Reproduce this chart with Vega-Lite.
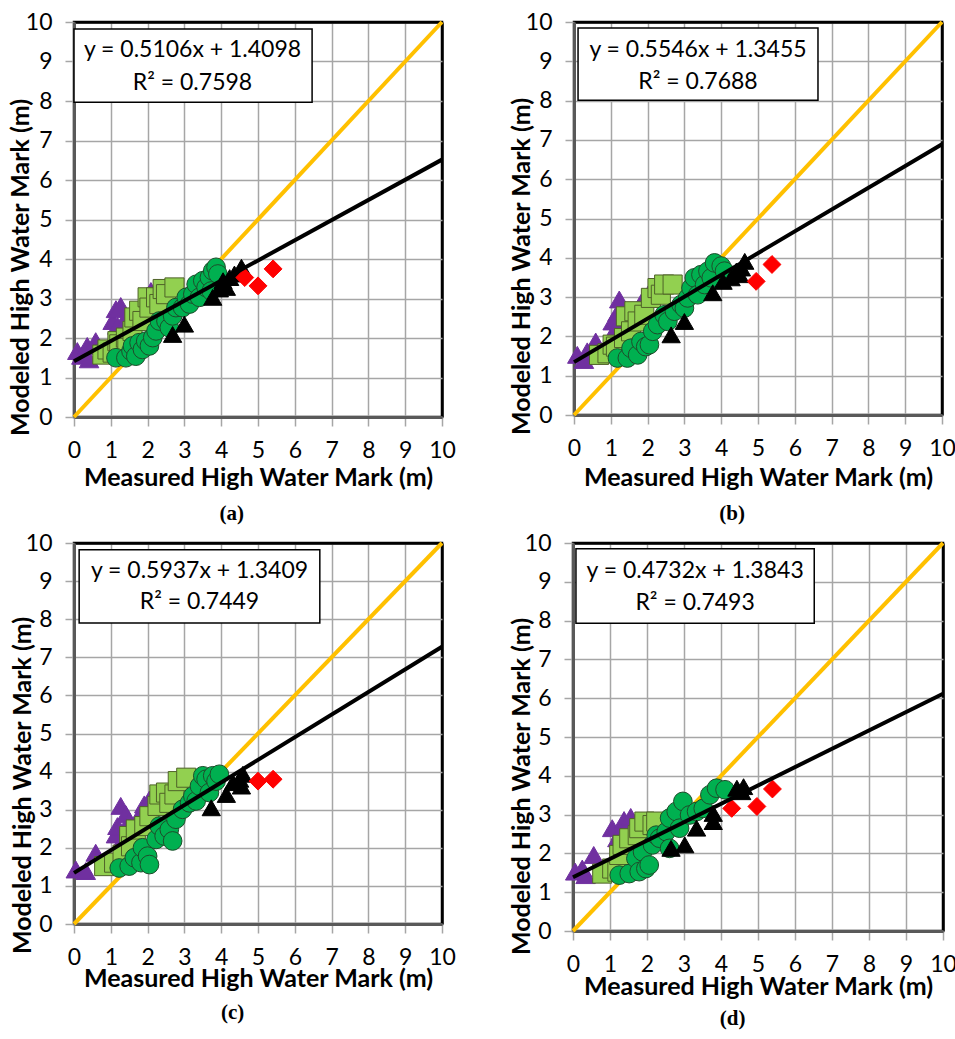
{
"$schema": "https://vega.github.io/schema/vega-lite/v6.json",
"padding": {"top": 9, "left": 6, "right": 0, "bottom": 0},
"background": "white",
"config": {
 "font": "Lato",
 "view": {"stroke": "black", "strokeWidth": 2.5},
 "axis": {"grid": true, "gridColor": {"condition": {"test": "datum.value == 10", "value": "black"}, "value": "#A6A6A6"}, "gridWidth": {"condition": {"test": "datum.value == 10", "value": 2.5}, "value": 1.5},
   "domainColor": "#595959", "domainWidth": 3, "tickColor": "#A6A6A6", "tickWidth": 1.5, "tickSize": 9,
   "labelFontSize": 23, "labelColor": "black", "labelPadding": 13, "labelFont": "Lato", "labelFlush": false, "labelOverlap": false,
   "titleFontSize": 25, "titleFontWeight": "bold", "titleColor": "black", "titleFont": "Lato"},
 "title": {"orient": "bottom", "font": "Liberation Serif", "fontSize": 21, "fontWeight": "bold", "color": "black", "frame": "bounds"}
},
"datasets": {
 "one": [{"x": 0, "y": 0}, {"x": 10, "y": 10}],
 "fit": [
  {"p": "a", "x": 0, "y": 1.4098}, {"p": "a", "x": 10, "y": 6.5158},
  {"p": "b", "x": 0, "y": 1.3455}, {"p": "b", "x": 10, "y": 6.8915},
  {"p": "c", "x": 0, "y": 1.3409}, {"p": "c", "x": 10, "y": 7.2779},
  {"p": "d", "x": 0, "y": 1.3843}, {"p": "d", "x": 10, "y": 6.1163}
 ],
 "boxes": [
  {"p": "a", "x": 0, "x2": 6.47, "y": 7.97, "y2": 9.82},
  {"p": "b", "x": 0.11, "x2": 6.63, "y": 8.01, "y2": 9.85},
  {"p": "c", "x": 0.14, "x2": 6.68, "y": 7.9, "y2": 9.82},
  {"p": "d", "x": 0.08, "x2": 6.52, "y": 7.93, "y2": 9.85}
 ],
 "eq": [
  {"p": "a", "x": 3.22, "y": 9.29, "t": "y = 0.5106x + 1.4098"}, {"p": "a", "x": 3.22, "y": 8.46, "t": "R² = 0.7598"},
  {"p": "b", "x": 3.37, "y": 9.29, "t": "y = 0.5546x + 1.3455"}, {"p": "b", "x": 3.37, "y": 8.47, "t": "R² = 0.7688"},
  {"p": "c", "x": 3.41, "y": 9.26, "t": "y = 0.5937x + 1.3409"}, {"p": "c", "x": 3.41, "y": 8.44, "t": "R² = 0.7449"},
  {"p": "d", "x": 3.30, "y": 9.27, "t": "y = 0.4732x + 1.3843"}, {"p": "d", "x": 3.30, "y": 8.45, "t": "R² = 0.7493"}
 ],
 "pts": [
  {"p":"a","s":"P","x":0.09,"y":1.67},{"p":"a","s":"P","x":0.2,"y":1.55},{"p":"a","s":"P","x":0.41,"y":1.46},{"p":"a","s":"P","x":0.36,"y":1.80},{"p":"a","s":"P","x":0.59,"y":1.92},{"p":"a","s":"P","x":1.05,"y":2.43},{"p":"a","s":"P","x":1.14,"y":2.73},{"p":"a","s":"P","x":1.27,"y":2.81},{"p":"a","s":"P","x":1.41,"y":2.52},{"p":"a","s":"P","x":1.18,"y":2.31},{"p":"a","s":"P","x":1.32,"y":2.26},{"p":"a","s":"P","x":1.55,"y":2.18},{"p":"a","s":"P","x":2.09,"y":3.19},
  {"p":"a","s":"S","x":0.77,"y":1.58},{"p":"a","s":"S","x":0.91,"y":1.71},{"p":"a","s":"S","x":1.05,"y":1.63},{"p":"a","s":"S","x":1.18,"y":1.92},{"p":"a","s":"S","x":1.23,"y":1.84},{"p":"a","s":"S","x":1.41,"y":2.01},{"p":"a","s":"S","x":1.45,"y":1.75},{"p":"a","s":"S","x":1.59,"y":2.18},{"p":"a","s":"S","x":1.64,"y":2.52},{"p":"a","s":"S","x":1.77,"y":2.69},{"p":"a","s":"S","x":1.86,"y":2.43},{"p":"a","s":"S","x":2.0,"y":3.03},{"p":"a","s":"S","x":2.05,"y":2.77},{"p":"a","s":"S","x":2.23,"y":3.03},{"p":"a","s":"S","x":2.32,"y":2.86},{"p":"a","s":"S","x":2.41,"y":3.24},{"p":"a","s":"S","x":2.5,"y":3.11},{"p":"a","s":"S","x":2.73,"y":3.28},
  {"p":"a","s":"C","x":1.14,"y":1.5},{"p":"a","s":"C","x":1.41,"y":1.5},{"p":"a","s":"C","x":1.55,"y":1.67},{"p":"a","s":"C","x":1.59,"y":1.80},{"p":"a","s":"C","x":1.68,"y":1.54},{"p":"a","s":"C","x":1.77,"y":1.88},{"p":"a","s":"C","x":1.86,"y":1.71},{"p":"a","s":"C","x":1.95,"y":1.92},{"p":"a","s":"C","x":2.05,"y":1.80},{"p":"a","s":"C","x":2.14,"y":2.01},{"p":"a","s":"C","x":2.23,"y":2.18},{"p":"a","s":"C","x":2.32,"y":2.43},{"p":"a","s":"C","x":2.5,"y":2.43},{"p":"a","s":"C","x":2.59,"y":2.26},{"p":"a","s":"C","x":2.68,"y":2.56},{"p":"a","s":"C","x":2.77,"y":2.77},{"p":"a","s":"C","x":2.95,"y":2.77},{"p":"a","s":"C","x":3.05,"y":3.03},{"p":"a","s":"C","x":3.14,"y":2.86},{"p":"a","s":"C","x":3.23,"y":3.11},{"p":"a","s":"C","x":3.32,"y":3.36},{"p":"a","s":"C","x":3.41,"y":3.03},{"p":"a","s":"C","x":3.5,"y":3.45},{"p":"a","s":"C","x":3.59,"y":3.28},{"p":"a","s":"C","x":3.68,"y":3.53},{"p":"a","s":"C","x":3.73,"y":3.19},{"p":"a","s":"C","x":3.77,"y":3.70},{"p":"a","s":"C","x":3.86,"y":3.79},{"p":"a","s":"C","x":3.91,"y":3.62},
  {"p":"a","s":"B","x":2.68,"y":2.09},{"p":"a","s":"B","x":3.0,"y":2.35},{"p":"a","s":"B","x":3.77,"y":3.03},{"p":"a","s":"B","x":3.95,"y":3.24},{"p":"a","s":"B","x":4.05,"y":3.45},{"p":"a","s":"B","x":4.14,"y":3.28},{"p":"a","s":"B","x":4.23,"y":3.53},{"p":"a","s":"B","x":4.36,"y":3.62},{"p":"a","s":"B","x":4.5,"y":3.66},{"p":"a","s":"B","x":4.55,"y":3.79},
  {"p":"a","s":"R","x":4.64,"y":3.53},{"p":"a","s":"R","x":5.0,"y":3.32},{"p":"a","s":"R","x":5.41,"y":3.75},

  {"p":"b","s":"P","x":0.09,"y":1.53},{"p":"b","s":"P","x":0.27,"y":1.40},{"p":"b","s":"P","x":0.36,"y":1.62},{"p":"b","s":"P","x":0.59,"y":1.87},{"p":"b","s":"P","x":1.05,"y":2.38},{"p":"b","s":"P","x":1.09,"y":2.13},{"p":"b","s":"P","x":1.18,"y":2.6},{"p":"b","s":"P","x":1.23,"y":2.94},{"p":"b","s":"P","x":1.27,"y":2.30},{"p":"b","s":"P","x":1.41,"y":2.6},{"p":"b","s":"P","x":1.82,"y":2.85},{"p":"b","s":"P","x":2.09,"y":3.19},
  {"p":"b","s":"S","x":0.68,"y":1.53},{"p":"b","s":"S","x":0.91,"y":1.57},{"p":"b","s":"S","x":1.05,"y":1.79},{"p":"b","s":"S","x":1.14,"y":1.74},{"p":"b","s":"S","x":1.36,"y":1.96},{"p":"b","s":"S","x":1.41,"y":2.51},{"p":"b","s":"S","x":1.55,"y":2.13},{"p":"b","s":"S","x":1.64,"y":2.64},{"p":"b","s":"S","x":1.73,"y":2.38},{"p":"b","s":"S","x":1.91,"y":2.55},{"p":"b","s":"S","x":2.09,"y":2.98},{"p":"b","s":"S","x":2.27,"y":3.23},{"p":"b","s":"S","x":2.36,"y":3.06},{"p":"b","s":"S","x":2.45,"y":3.32},{"p":"b","s":"S","x":2.68,"y":3.32},
  {"p":"b","s":"C","x":1.18,"y":1.45},{"p":"b","s":"C","x":1.45,"y":1.45},{"p":"b","s":"C","x":1.55,"y":1.70},{"p":"b","s":"C","x":1.73,"y":1.53},{"p":"b","s":"C","x":1.82,"y":1.87},{"p":"b","s":"C","x":1.95,"y":1.74},{"p":"b","s":"C","x":2.05,"y":1.79},{"p":"b","s":"C","x":2.14,"y":2.13},{"p":"b","s":"C","x":2.27,"y":2.30},{"p":"b","s":"C","x":2.45,"y":2.55},{"p":"b","s":"C","x":2.55,"y":2.38},{"p":"b","s":"C","x":2.73,"y":2.64},{"p":"b","s":"C","x":2.91,"y":2.81},{"p":"b","s":"C","x":3.0,"y":2.72},{"p":"b","s":"C","x":3.09,"y":2.98},{"p":"b","s":"C","x":3.18,"y":3.23},{"p":"b","s":"C","x":3.27,"y":3.49},{"p":"b","s":"C","x":3.36,"y":3.06},{"p":"b","s":"C","x":3.45,"y":3.57},{"p":"b","s":"C","x":3.55,"y":3.32},{"p":"b","s":"C","x":3.64,"y":3.66},{"p":"b","s":"C","x":3.73,"y":3.49},{"p":"b","s":"C","x":3.82,"y":3.87},{"p":"b","s":"C","x":4.0,"y":3.79},{"p":"b","s":"C","x":4.09,"y":3.66},
  {"p":"b","s":"B","x":2.64,"y":2.04},{"p":"b","s":"B","x":3.0,"y":2.38},{"p":"b","s":"B","x":3.77,"y":3.11},{"p":"b","s":"B","x":4.05,"y":3.40},{"p":"b","s":"B","x":4.27,"y":3.49},{"p":"b","s":"B","x":4.41,"y":3.66},{"p":"b","s":"B","x":4.5,"y":3.57},{"p":"b","s":"B","x":4.55,"y":3.74},{"p":"b","s":"B","x":4.64,"y":3.91},
  {"p":"b","s":"R","x":4.95,"y":3.40},{"p":"b","s":"R","x":5.38,"y":3.83},

  {"p":"c","s":"P","x":0.05,"y":1.43},{"p":"c","s":"P","x":0.32,"y":1.39},{"p":"c","s":"P","x":0.59,"y":1.87},{"p":"c","s":"P","x":0.95,"y":1.69},{"p":"c","s":"P","x":1.14,"y":2.35},{"p":"c","s":"P","x":1.18,"y":2.57},{"p":"c","s":"P","x":1.27,"y":3.10},{"p":"c","s":"P","x":1.32,"y":2.22},{"p":"c","s":"P","x":1.41,"y":2.88},{"p":"c","s":"P","x":1.5,"y":2.70},{"p":"c","s":"P","x":1.82,"y":2.92},{"p":"c","s":"P","x":1.91,"y":3.14},{"p":"c","s":"P","x":2.05,"y":3.27},
  {"p":"c","s":"S","x":0.82,"y":1.52},{"p":"c","s":"S","x":1.09,"y":1.61},{"p":"c","s":"S","x":1.32,"y":1.82},{"p":"c","s":"S","x":1.5,"y":2.31},{"p":"c","s":"S","x":1.55,"y":2.04},{"p":"c","s":"S","x":1.68,"y":2.48},{"p":"c","s":"S","x":1.91,"y":2.57},{"p":"c","s":"S","x":2.05,"y":2.83},{"p":"c","s":"S","x":2.27,"y":3.10},{"p":"c","s":"S","x":2.32,"y":3.40},{"p":"c","s":"S","x":2.5,"y":3.45},{"p":"c","s":"S","x":2.59,"y":3.18},{"p":"c","s":"S","x":2.73,"y":3.40},{"p":"c","s":"S","x":2.82,"y":3.75},{"p":"c","s":"S","x":3.05,"y":3.84},
  {"p":"c","s":"C","x":1.23,"y":1.47},{"p":"c","s":"C","x":1.5,"y":1.52},{"p":"c","s":"C","x":1.64,"y":1.74},{"p":"c","s":"C","x":1.82,"y":1.61},{"p":"c","s":"C","x":1.86,"y":2.0},{"p":"c","s":"C","x":2.0,"y":1.78},{"p":"c","s":"C","x":2.05,"y":1.56},{"p":"c","s":"C","x":2.23,"y":2.22},{"p":"c","s":"C","x":2.32,"y":2.57},{"p":"c","s":"C","x":2.45,"y":2.31},{"p":"c","s":"C","x":2.59,"y":2.48},{"p":"c","s":"C","x":2.68,"y":2.18},{"p":"c","s":"C","x":2.77,"y":2.75},{"p":"c","s":"C","x":2.95,"y":3.01},{"p":"c","s":"C","x":3.14,"y":3.18},{"p":"c","s":"C","x":3.23,"y":3.36},{"p":"c","s":"C","x":3.32,"y":3.23},{"p":"c","s":"C","x":3.41,"y":3.62},{"p":"c","s":"C","x":3.5,"y":3.89},{"p":"c","s":"C","x":3.59,"y":3.80},{"p":"c","s":"C","x":3.68,"y":3.45},{"p":"c","s":"C","x":3.77,"y":3.89},{"p":"c","s":"C","x":3.86,"y":3.75},{"p":"c","s":"C","x":3.95,"y":3.93},
  {"p":"c","s":"B","x":3.73,"y":3.05},{"p":"c","s":"B","x":4.14,"y":3.40},{"p":"c","s":"B","x":4.32,"y":3.71},{"p":"c","s":"B","x":4.5,"y":3.80},{"p":"c","s":"B","x":4.55,"y":3.62},{"p":"c","s":"B","x":4.59,"y":3.93},
  {"p":"c","s":"R","x":5.0,"y":3.75},{"p":"c","s":"R","x":5.41,"y":3.80},

  {"p":"d","s":"P","x":0.06,"y":1.53},{"p":"d","s":"P","x":0.25,"y":1.61},{"p":"d","s":"P","x":0.34,"y":1.44},{"p":"d","s":"P","x":0.56,"y":1.96},{"p":"d","s":"P","x":1.06,"y":2.65},{"p":"d","s":"P","x":1.2,"y":2.39},{"p":"d","s":"P","x":1.29,"y":2.56},{"p":"d","s":"P","x":1.38,"y":2.86},{"p":"d","s":"P","x":1.47,"y":2.69},{"p":"d","s":"P","x":1.56,"y":2.94},
  {"p":"d","s":"S","x":0.79,"y":1.48},{"p":"d","s":"S","x":1.06,"y":1.61},{"p":"d","s":"S","x":1.2,"y":1.53},{"p":"d","s":"S","x":1.25,"y":1.96},{"p":"d","s":"S","x":1.34,"y":2.22},{"p":"d","s":"S","x":1.52,"y":2.39},{"p":"d","s":"S","x":1.75,"y":2.47},{"p":"d","s":"S","x":1.79,"y":2.65},{"p":"d","s":"S","x":1.93,"y":2.82},{"p":"d","s":"S","x":2.15,"y":2.73},{"p":"d","s":"S","x":2.25,"y":2.82},
  {"p":"d","s":"C","x":1.25,"y":1.44},{"p":"d","s":"C","x":1.52,"y":1.48},{"p":"d","s":"C","x":1.7,"y":1.87},{"p":"d","s":"C","x":1.79,"y":1.53},{"p":"d","s":"C","x":1.88,"y":2.04},{"p":"d","s":"C","x":1.97,"y":1.61},{"p":"d","s":"C","x":2.06,"y":1.70},{"p":"d","s":"C","x":2.15,"y":2.22},{"p":"d","s":"C","x":2.25,"y":2.47},{"p":"d","s":"C","x":2.34,"y":2.39},{"p":"d","s":"C","x":2.52,"y":2.56},{"p":"d","s":"C","x":2.61,"y":2.91},{"p":"d","s":"C","x":2.61,"y":2.13},{"p":"d","s":"C","x":2.79,"y":3.08},{"p":"d","s":"C","x":2.88,"y":2.65},{"p":"d","s":"C","x":2.97,"y":3.34},{"p":"d","s":"C","x":3.15,"y":2.99},{"p":"d","s":"C","x":3.34,"y":3.08},{"p":"d","s":"C","x":3.52,"y":3.16},{"p":"d","s":"C","x":3.7,"y":3.51},{"p":"d","s":"C","x":3.88,"y":3.68},{"p":"d","s":"C","x":4.11,"y":3.64},
  {"p":"d","s":"B","x":2.65,"y":2.13},{"p":"d","s":"B","x":3.02,"y":2.22},{"p":"d","s":"B","x":3.34,"y":2.65},{"p":"d","s":"B","x":3.79,"y":2.82},{"p":"d","s":"B","x":3.79,"y":3.03},{"p":"d","s":"B","x":4.43,"y":3.68},{"p":"d","s":"B","x":4.56,"y":3.59},{"p":"d","s":"B","x":4.61,"y":3.72},
  {"p":"d","s":"R","x":4.29,"y":3.16},{"p":"d","s":"R","x":4.97,"y":3.21},{"p":"d","s":"R","x":5.39,"y":3.66}
 ]
},
"vconcat": [
 {"hconcat": [
  {"width": 368, "height": 395, "title": {"text": "(a)", "offset": 13},
   "encoding": {
    "x": {"field": "x", "type": "quantitative", "scale": {"domain": [0, 10], "nice": false, "zero": false}, "axis": {"values": [0,1,2,3,4,5,6,7,8,9,10], "title": "Measured High Water Mark (m)", "titleY": 60, "titleBaseline": "middle"}},
    "y": {"field": "y", "type": "quantitative", "scale": {"domain": [0, 10], "nice": false, "zero": false}, "axis": {"values": [0,1,2,3,4,5,6,7,8,9,10], "title": "Modeled High Water Mark (m)", "titleX": -46, "titleY": 245, "titleBaseline": "alphabetic"}}
   },
   "layer": [
    {"data": {"name": "boxes"}, "transform": [{"filter": "datum.p == 'a'"}], "mark": {"type": "rect", "fill": "white", "stroke": "black", "strokeWidth": 1.5}, "encoding": {"x2": {"field": "x2"}, "y2": {"field": "y2"}}},
    {"data": {"name": "eq"}, "transform": [{"filter": "datum.p == 'a'"}], "mark": {"type": "text", "fontSize": 23, "font": "Lato", "color": "black", "align": "center", "baseline": "middle"}, "encoding": {"text": {"field": "t"}}},
    {"data": {"name": "one"}, "mark": {"type": "line", "color": "#FFC000", "strokeWidth": 4}, "encoding": {}},
    {"data": {"name": "pts"}, "transform": [{"filter": "datum.p == 'a'"}], "mark": {"type": "point", "filled": true, "opacity": 1, "strokeWidth": 1},
     "encoding": {
      "shape": {"field": "s", "type": "nominal", "legend": null, "scale": {"domain": ["P","S","C","B","R"], "range": ["triangle-up","square","circle","triangle-up","diamond"]}},
      "fill": {"field": "s", "type": "nominal", "legend": null, "scale": {"domain": ["P","S","C","B","R"], "range": ["#7030A0","#92D050","#00B050","#000000","#FF0000"]}},
      "stroke": {"field": "s", "type": "nominal", "legend": null, "scale": {"domain": ["P","S","C","B","R"], "range": ["#7030A0","#4F6228","#1E4D2B","#000000","#FF0000"]}},
      "size": {"field": "s", "type": "ordinal", "legend": null, "scale": {"domain": ["P","S","C","B","R"], "range": [380,320,340,240,240]}}
     }},
    {"data": {"name": "fit"}, "transform": [{"filter": "datum.p == 'a'"}], "mark": {"type": "line", "color": "black", "strokeWidth": 4}, "encoding": {}}
   ]},
  {"width": 368, "height": 393, "title": {"text": "(b)", "offset": 13},
   "encoding": {
    "x": {"field": "x", "type": "quantitative", "scale": {"domain": [0, 10], "nice": false, "zero": false}, "axis": {"values": [0,1,2,3,4,5,6,7,8,9,10], "title": "Measured High Water Mark (m)", "titleY": 62, "titleBaseline": "middle"}},
    "y": {"field": "y", "type": "quantitative", "scale": {"domain": [0, 10], "nice": false, "zero": false}, "axis": {"values": [0,1,2,3,4,5,6,7,8,9,10], "title": "Modeled High Water Mark (m)", "titleX": -45, "titleY": 244, "titleBaseline": "alphabetic"}}
   },
   "layer": [
    {"data": {"name": "boxes"}, "transform": [{"filter": "datum.p == 'b'"}], "mark": {"type": "rect", "fill": "white", "stroke": "black", "strokeWidth": 1.5}, "encoding": {"x2": {"field": "x2"}, "y2": {"field": "y2"}}},
    {"data": {"name": "eq"}, "transform": [{"filter": "datum.p == 'b'"}], "mark": {"type": "text", "fontSize": 23, "font": "Lato", "color": "black", "align": "center", "baseline": "middle"}, "encoding": {"text": {"field": "t"}}},
    {"data": {"name": "one"}, "mark": {"type": "line", "color": "#FFC000", "strokeWidth": 4}, "encoding": {}},
    {"data": {"name": "pts"}, "transform": [{"filter": "datum.p == 'b'"}], "mark": {"type": "point", "filled": true, "opacity": 1, "strokeWidth": 1},
     "encoding": {
      "shape": {"field": "s", "type": "nominal", "legend": null, "scale": {"domain": ["P","S","C","B","R"], "range": ["triangle-up","square","circle","triangle-up","diamond"]}},
      "fill": {"field": "s", "type": "nominal", "legend": null, "scale": {"domain": ["P","S","C","B","R"], "range": ["#7030A0","#92D050","#00B050","#000000","#FF0000"]}},
      "stroke": {"field": "s", "type": "nominal", "legend": null, "scale": {"domain": ["P","S","C","B","R"], "range": ["#7030A0","#4F6228","#1E4D2B","#000000","#FF0000"]}},
      "size": {"field": "s", "type": "ordinal", "legend": null, "scale": {"domain": ["P","S","C","B","R"], "range": [380,320,340,240,240]}}
     }},
    {"data": {"name": "fit"}, "transform": [{"filter": "datum.p == 'b'"}], "mark": {"type": "line", "color": "black", "strokeWidth": 4}, "encoding": {}}
   ]}
 ], "spacing": 50},
 {"hconcat": [
  {"width": 368, "height": 381, "title": {"text": "(c)", "offset": 11},
   "encoding": {
    "x": {"field": "x", "type": "quantitative", "scale": {"domain": [0, 10], "nice": false, "zero": false}, "axis": {"values": [0,1,2,3,4,5,6,7,8,9,10], "title": "Measured High Water Mark (m)", "titleY": 54, "titleBaseline": "middle"}},
    "y": {"field": "y", "type": "quantitative", "scale": {"domain": [0, 10], "nice": false, "zero": false}, "axis": {"values": [0,1,2,3,4,5,6,7,8,9,10], "title": "Modeled High Water Mark (m)", "titleX": -44, "titleY": 242, "titleBaseline": "alphabetic"}}
   },
   "layer": [
    {"data": {"name": "boxes"}, "transform": [{"filter": "datum.p == 'c'"}], "mark": {"type": "rect", "fill": "white", "stroke": "black", "strokeWidth": 1.5}, "encoding": {"x2": {"field": "x2"}, "y2": {"field": "y2"}}},
    {"data": {"name": "eq"}, "transform": [{"filter": "datum.p == 'c'"}], "mark": {"type": "text", "fontSize": 23, "font": "Lato", "color": "black", "align": "center", "baseline": "middle"}, "encoding": {"text": {"field": "t"}}},
    {"data": {"name": "one"}, "mark": {"type": "line", "color": "#FFC000", "strokeWidth": 4}, "encoding": {}},
    {"data": {"name": "pts"}, "transform": [{"filter": "datum.p == 'c'"}], "mark": {"type": "point", "filled": true, "opacity": 1, "strokeWidth": 1},
     "encoding": {
      "shape": {"field": "s", "type": "nominal", "legend": null, "scale": {"domain": ["P","S","C","B","R"], "range": ["triangle-up","square","circle","triangle-up","diamond"]}},
      "fill": {"field": "s", "type": "nominal", "legend": null, "scale": {"domain": ["P","S","C","B","R"], "range": ["#7030A0","#92D050","#00B050","#000000","#FF0000"]}},
      "stroke": {"field": "s", "type": "nominal", "legend": null, "scale": {"domain": ["P","S","C","B","R"], "range": ["#7030A0","#4F6228","#1E4D2B","#000000","#FF0000"]}},
      "size": {"field": "s", "type": "ordinal", "legend": null, "scale": {"domain": ["P","S","C","B","R"], "range": [380,320,340,240,240]}}
     }},
    {"data": {"name": "fit"}, "transform": [{"filter": "datum.p == 'c'"}], "mark": {"type": "line", "color": "black", "strokeWidth": 4}, "encoding": {}}
   ]},
  {"width": 370, "height": 388, "title": {"text": "(d)", "offset": 9},
   "encoding": {
    "x": {"field": "x", "type": "quantitative", "scale": {"domain": [0, 10], "nice": false, "zero": false}, "axis": {"values": [0,1,2,3,4,5,6,7,8,9,10], "title": "Measured High Water Mark (m)", "titleY": 55, "titleBaseline": "middle"}},
    "y": {"field": "y", "type": "quantitative", "scale": {"domain": [0, 10], "nice": false, "zero": false}, "axis": {"values": [0,1,2,3,4,5,6,7,8,9,10], "title": "Modeled High Water Mark (m)", "titleX": -44, "titleY": 243, "titleBaseline": "alphabetic"}}
   },
   "layer": [
    {"data": {"name": "boxes"}, "transform": [{"filter": "datum.p == 'd'"}], "mark": {"type": "rect", "fill": "white", "stroke": "black", "strokeWidth": 1.5}, "encoding": {"x2": {"field": "x2"}, "y2": {"field": "y2"}}},
    {"data": {"name": "eq"}, "transform": [{"filter": "datum.p == 'd'"}], "mark": {"type": "text", "fontSize": 23, "font": "Lato", "color": "black", "align": "center", "baseline": "middle"}, "encoding": {"text": {"field": "t"}}},
    {"data": {"name": "one"}, "mark": {"type": "line", "color": "#FFC000", "strokeWidth": 4}, "encoding": {}},
    {"data": {"name": "pts"}, "transform": [{"filter": "datum.p == 'd'"}], "mark": {"type": "point", "filled": true, "opacity": 1, "strokeWidth": 1},
     "encoding": {
      "shape": {"field": "s", "type": "nominal", "legend": null, "scale": {"domain": ["P","S","C","B","R"], "range": ["triangle-up","square","circle","triangle-up","diamond"]}},
      "fill": {"field": "s", "type": "nominal", "legend": null, "scale": {"domain": ["P","S","C","B","R"], "range": ["#7030A0","#92D050","#00B050","#000000","#FF0000"]}},
      "stroke": {"field": "s", "type": "nominal", "legend": null, "scale": {"domain": ["P","S","C","B","R"], "range": ["#7030A0","#4F6228","#1E4D2B","#000000","#FF0000"]}},
      "size": {"field": "s", "type": "ordinal", "legend": null, "scale": {"domain": ["P","S","C","B","R"], "range": [380,320,340,240,240]}}
     }},
    {"data": {"name": "fit"}, "transform": [{"filter": "datum.p == 'd'"}], "mark": {"type": "line", "color": "black", "strokeWidth": 4}, "encoding": {}}
   ]}
 ], "spacing": 50}
],
"spacing": 4
}
